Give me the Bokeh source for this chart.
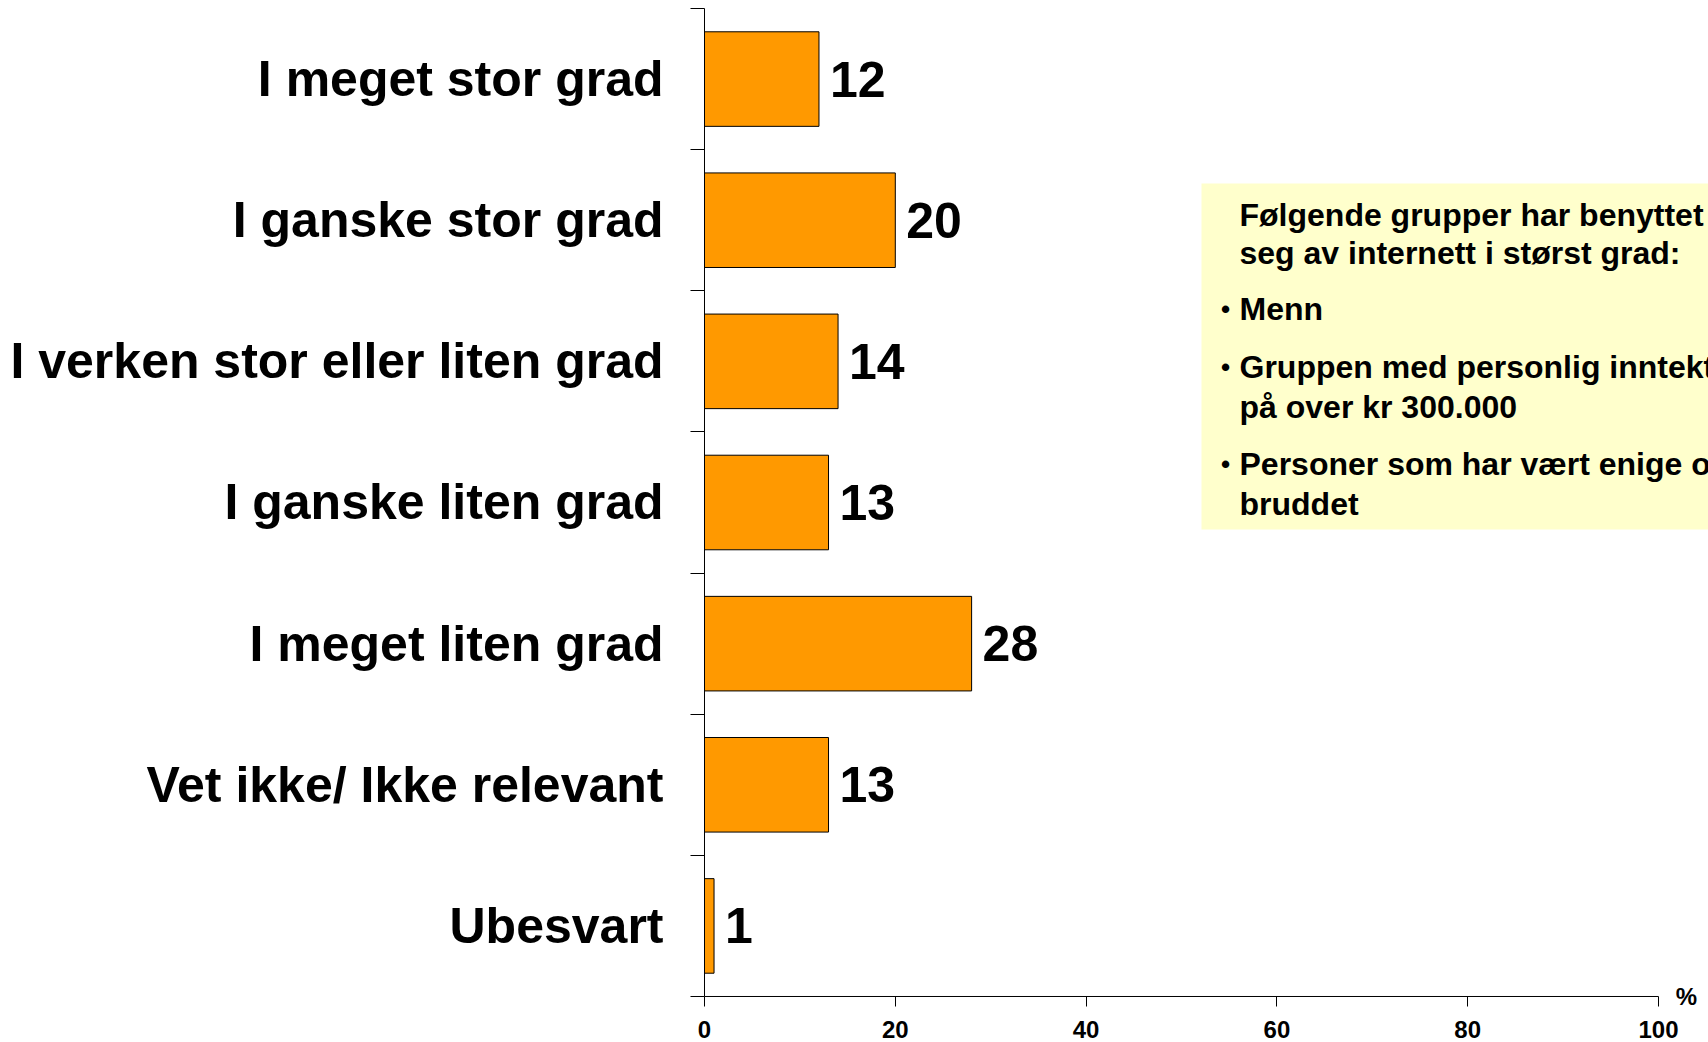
from bokeh.plotting import figure
from bokeh.models import ColumnDataSource, FixedTicker, Range1d, Label, BoxAnnotation
from bokeh.core.properties import value
from bokeh.embed import file_html
from bokeh.resources import INLINE

# ---- data ----
categories = [
    "I meget stor grad",
    "I ganske stor grad",
    "I verken stor eller liten grad",
    "I ganske liten grad",
    "I meget liten grad",
    "Vet ikke/ Ikke relevant",
    "Ubesvart",
]
values = [12, 20, 14, 13, 28, 13, 1]
x_ticks = [0, 20, 40, 60, 80, 100]
axis_unit = "%"
box_title = ["Følgende grupper har benyttet", "seg av internett i størst grad:"]
box_bullets = [
    ["Menn"],
    ["Gruppen med personlig inntekt", "på over kr 300.000"],
    ["Personer som har vært enige om", "bruddet"],
]

FONT = "Liberation Sans"
n = len(categories)
ypos = list(range(1, n + 1))

src = ColumnDataSource(dict(
    y=ypos,
    v=values,
    lbl=[str(v) for v in values],
))

# layout (screen px)
X0 = 704          # x = 0
PXU = 9.54        # px per x unit
TOP = 8           # top of first band
BAND = 141.14     # px per category band
FRAME_W = 1708 - X0
EXTRA = 10        # frame below the category area (tick marks)
FRAME_H = int(round(BAND * n)) + EXTRA

p = figure(
    frame_width=FRAME_W, frame_height=FRAME_H,
    x_range=Range1d(0, FRAME_W / PXU),
    y_range=Range1d(n + 0.5 + EXTRA / BAND, 0.5),
    output_backend="svg", toolbar_location=None,
    min_border_left=X0, min_border_right=0,
    min_border_top=TOP, min_border_bottom=36,
)
p.outline_line_color = None
p.grid.visible = False
p.background_fill_color = "white"

def py(px):  # screen px -> data y
    return 0.5 + (px - TOP) / BAND

def px_x(px):  # screen px -> data x
    return (px - X0) / PXU

# yellow info box (annotation)
p.add_layout(BoxAnnotation(left=px_x(1201), right=FRAME_W / PXU + 5, top=py(183), bottom=py(529),
                           fill_color="#FFFFCC", fill_alpha=1.0, line_color=None,
                           level="underlay"))

p.hbar(y="y", right="v", left=0, height=0.67, source=src,
       fill_color="#FF9900", line_color="black", line_width=1)

p.text(x="v", y="y", text="lbl", source=src, x_offset=11,
       text_baseline="middle", text_align="left",
       text_font=value(FONT), text_font_style="bold",
       text_font_size="50px", text_color="black")

# x-axis baseline at the bottom of the category area
p.line(x=[x_ticks[0], x_ticks[-1]], y=[n + 0.5, n + 0.5], line_color="black", line_width=1)
p.text(x=[px_x(1686)], y=[n + 0.5], text=[axis_unit], text_align="center",
       text_baseline="middle", text_font=value(FONT), text_font_style="bold",
       text_font_size="24px", text_color="black")

# Y axis: labels at category centres, ticks at category boundaries
ya = p.yaxis[0]
ya.ticker = FixedTicker(ticks=ypos, minor_ticks=[i + 0.5 for i in range(n + 1)])
ya.major_label_overrides = {y: c for y, c in zip(ypos, categories)}
ya.bounds = (0.5, n + 0.5)
ya.major_tick_line_color = None
ya.major_tick_out = 0
ya.major_tick_in = 0
ya.minor_tick_line_color = "black"
ya.minor_tick_out = 14
ya.minor_tick_in = 0
ya.axis_line_color = "black"
ya.axis_line_width = 1
ya.major_label_standoff = 27
ya.major_label_text_font = FONT
ya.major_label_text_font_style = "bold"
ya.major_label_text_font_size = "50px"
ya.major_label_text_color = "black"

# X axis: ticks drawn inward up to the baseline, labels below
xa = p.xaxis[0]
xa.ticker = FixedTicker(ticks=x_ticks, minor_ticks=[])
xa.axis_line_color = None
xa.major_tick_out = 0
xa.major_tick_in = EXTRA
xa.major_tick_line_color = "black"
xa.minor_tick_line_color = None
xa.major_label_standoff = 14
xa.major_label_text_font = FONT
xa.major_label_text_font_style = "bold"
xa.major_label_text_font_size = "24px"
xa.major_label_text_color = "black"

# box texts
line_y = [214, 252, 308, 366, 406, 463, 503]
lines = [(t, False) for t in box_title]
for b in box_bullets:
    for j, t in enumerate(b):
        lines.append((t, j == 0))
for (t, bullet), sy in zip(lines, line_y):
    p.add_layout(Label(x=px_x(1239), y=py(sy), text=t, text_align="left",
                       text_baseline="middle", text_font=FONT, text_font_style="bold",
                       text_font_size="32px", text_color="black"))
    if bullet:
        p.add_layout(Label(x=px_x(1225), y=py(sy), text="•", text_align="center",
                           text_baseline="middle", text_font=FONT, text_font_style="bold",
                           text_font_size="26px", text_color="black"))

open("out.html", "w").write(file_html(p, INLINE))
